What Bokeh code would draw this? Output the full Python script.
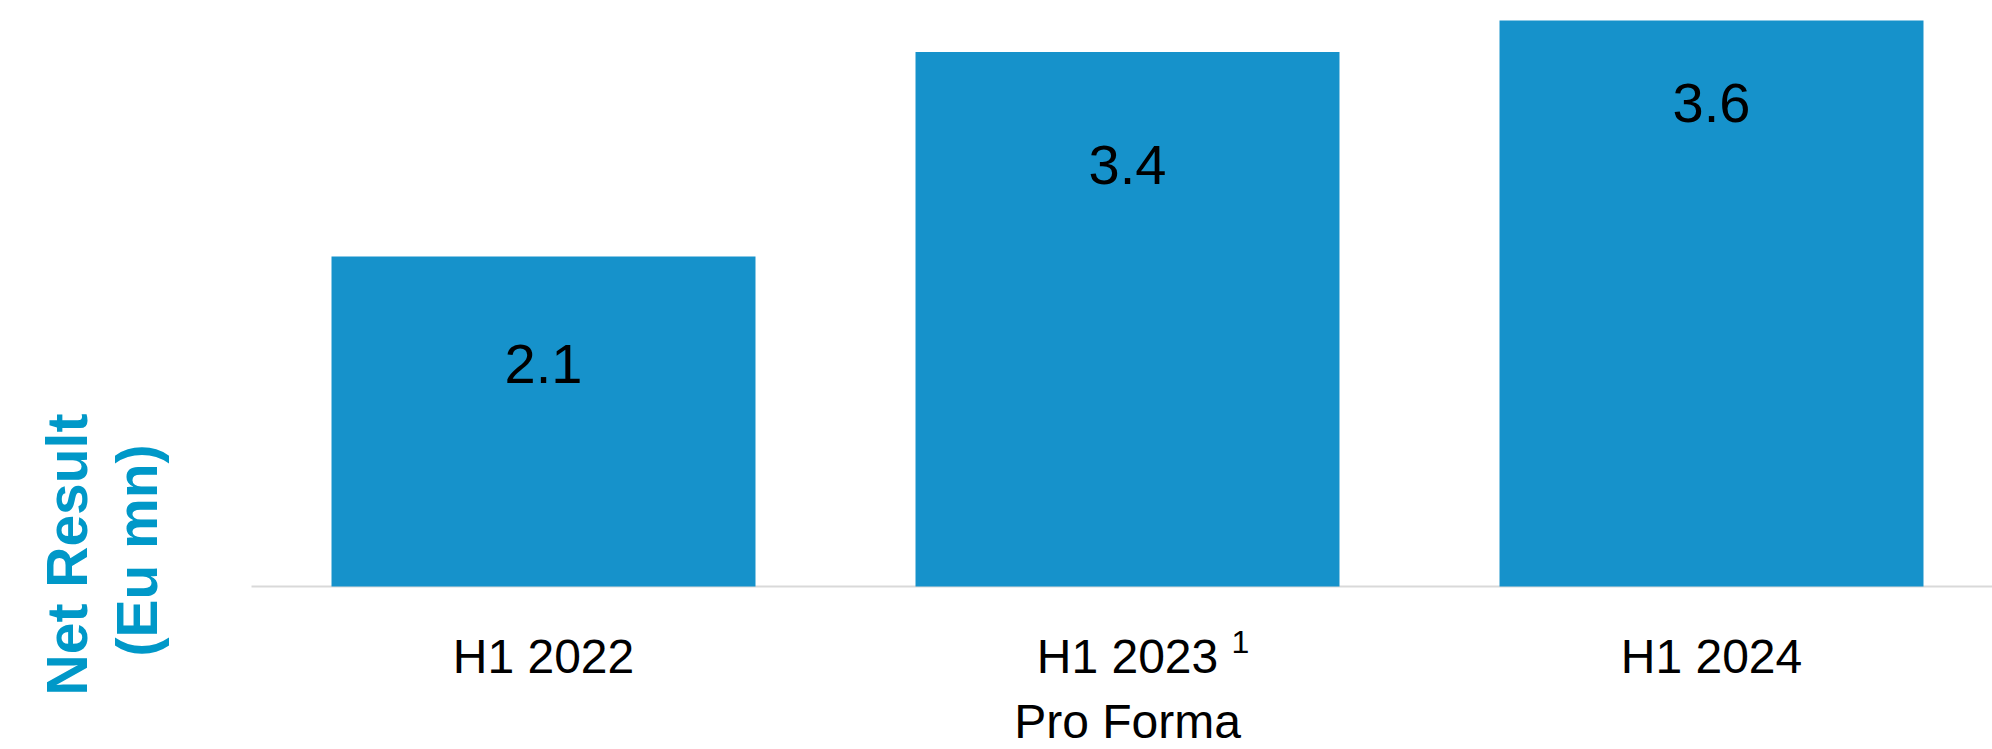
import math
from bokeh.plotting import figure
from bokeh.models import ColumnDataSource, Range1d
from bokeh.core.properties import value
from bokeh.embed import file_html
from bokeh.resources import INLINE

# ---- data ----
categories = ["H1 2022", "H1 2023", "H1 2024"]
sub_labels = ["", "Pro Forma", ""]
footnotes = ["", "1", ""]
values = [2.1, 3.4, 3.6]
value_labels = ["2.1", "3.4", "3.6"]
y_title_lines = ["Net Result", "(Eu mn)"]

# ---- styles / layout ----
FONT = "Liberation Sans"
BAR_COLOR = "#1692CB"
TITLE_COLOR = "#0098C8"
BASE_COLOR = "#D9D9D9"
W, H = 1992, 749
PX_PER_CAT = 584.0          # horizontal pixels per category
PX_PER_UNIT = 157.2         # vertical pixels per Eu mn
LEFT_EDGE_PX = 251          # left edge of first category slot
BASE_PX = 586               # baseline (value 0) from top
BAR_WIDTH = 0.726
label_offsets_px = [108, 113, 82]

xs = list(range(len(categories)))
x_start = xs[0] - 0.5 - LEFT_EDGE_PX / PX_PER_CAT
x_end = x_start + W / PX_PER_CAT
y_end = BASE_PX / PX_PER_UNIT
y_start = -(H - BASE_PX) / PX_PER_UNIT

p = figure(
    width=W, height=H,
    x_range=Range1d(x_start, x_end),
    y_range=Range1d(y_start, y_end),
    output_backend="svg", toolbar_location=None,
    min_border=0,
)
p.outline_line_color = None
p.axis.visible = False
p.grid.visible = False
p.background_fill_color = "white"

# baseline (category axis line)
p.segment(x0=[xs[0] - 0.5], y0=[0], x1=[x_end], y1=[0],
          line_color=BASE_COLOR, line_width=2)

src = ColumnDataSource(dict(
    x=xs, top=values, label=value_labels, yoff=label_offsets_px,
    cat=categories, sub=sub_labels, foot=footnotes,
))

p.vbar(x="x", top="top", bottom=0, width=BAR_WIDTH, source=src,
       fill_color=BAR_COLOR, line_color=None)

# value labels inside bars
p.text(x="x", y="top", text="label", source=src, y_offset="yoff",
       text_align="center", text_baseline="middle",
       text_font=value(FONT), text_font_size="56px", text_color="#000000")

# category labels under the baseline
p.text(x="x", y=0, text="cat", source=src, y_offset=70,
       text_align="center", text_baseline="middle",
       text_font=value(FONT), text_font_size="48px", text_color="#000000")
p.text(x="x", y=0, text="sub", source=src, y_offset=135,
       text_align="center", text_baseline="middle",
       text_font=value(FONT), text_font_size="48px", text_color="#000000")
# footnote superscript
p.text(x="x", y=0, text="foot", source=src, x_offset=104, y_offset=55,
       text_align="left", text_baseline="middle",
       text_font=value(FONT), text_font_size="32px", text_color="#000000")

# rotated y-axis title
tsrc = ColumnDataSource(dict(
    x=[xs[0] - 0.5] * 2, y=[0, 0], text=y_title_lines,
    xoff=[-185, -115], yoff=[-32, -36],
))
p.text(x="x", y="y", text="text", source=tsrc, x_offset="xoff", y_offset="yoff",
       angle=math.pi / 2, text_align="center", text_baseline="alphabetic",
       text_font=value(FONT), text_font_size="57px", text_font_style="bold",
       text_color=TITLE_COLOR)

open("out.html", "w").write(file_html(p, INLINE))
